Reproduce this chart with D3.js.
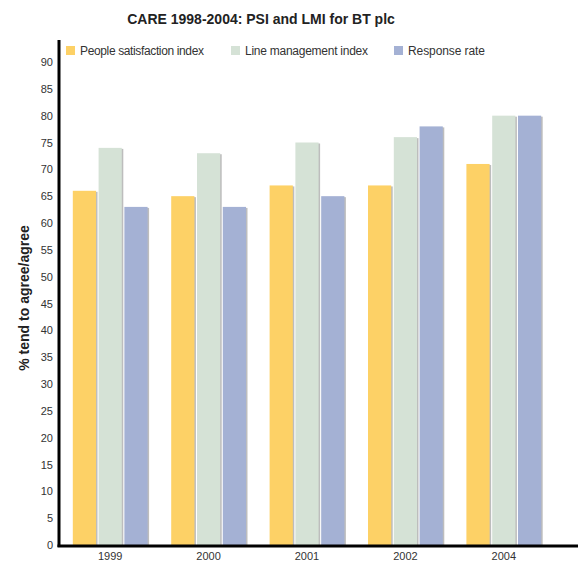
<!DOCTYPE html>
<html>
<head>
<meta charset="utf-8">
<script src="https://cdn.jsdelivr.net/npm/d3@7"></script>
<style>
  body { margin: 0; background: #fff; }
  svg { display: block; font-family: "Liberation Sans", Arial, sans-serif; }
</style>
</head>
<body>
<svg class="chart" width="580" height="563"></svg>
<script>
// data
const years = ["1999", "2000", "2001", "2002", "2004"];
const seriesNames = ["People satisfaction index", "Line management index", "Response rate"];
const psi = [66, 65, 67, 67, 71];
const lmi = [74, 73, 75, 76, 80];
const response = [63, 63, 65, 78, 80];
const yTicks = d3.range(0, 95, 5);
const colors = ["#fdd166", "#d5e2d6", "#a4b1d4"];

const rows = years.map((y, i) => ({ year: y, values: [psi[i], lmi[i], response[i]] }));

const svg = d3.select(".chart");

let leftMargin = 59, rightEdge = 578, topEdge = 40, bottomEdge = 545;

const x0 = d3.scaleBand().domain(years).range([61, 553]).paddingInner(0.24).paddingOuter(0.12);
const x1 = d3.scaleBand().domain(d3.range(3)).range([0, x0.bandwidth()]).paddingInner(0.1);
const yScale = d3.scaleLinear().domain([0, 90]).range([bottomEdge, 62]);

// title
svg.append("text")
  .attr("x", 261).attr("y", 24)
  .attr("text-anchor", "middle")
  .style("font-size", "14px").style("font-weight", "bold").style("fill", "#222")
  .text("CARE 1998-2004: PSI and LMI for BT plc");

// bars
const groups = svg.selectAll(".group")
  .data(rows)
  .enter()
  .append("g")
  .attr("class", "group")
  .attr("transform", (d) => `translate(${x0(d.year)},0)`);

const bar = groups.selectAll(".bar")
  .data((d) => d.values.map((v, k) => ({ k: k, v: v })))
  .enter()
  .append("g")
  .attr("class", "bar");

// thin grey shadow on the right side
bar.append("rect")
  .attr("x", (d) => x1(d.k) + 1.5)
  .attr("y", (d) => yScale(d.v) + 1)
  .attr("width", x1.bandwidth())
  .attr("height", (d) => bottomEdge - yScale(d.v) - 1)
  .style("fill", "#bdbdbd");

bar.append("rect")
  .attr("x", (d) => x1(d.k))
  .attr("y", (d) => yScale(d.v))
  .attr("width", x1.bandwidth())
  .attr("height", (d) => bottomEdge - yScale(d.v))
  .style("fill", (d) => colors[d.k]);

// y axis tick labels
svg.selectAll(".ylab")
  .data(yTicks)
  .enter()
  .append("text")
  .attr("x", 53)
  .attr("y", (d) => yScale(d) + 4)
  .attr("text-anchor", "end")
  .style("font-size", "11px").style("fill", "#333")
  .text((d) => d);

// x labels
svg.selectAll(".xlab")
  .data(years)
  .enter()
  .append("text")
  .attr("x", (d) => x0(d) + x0.bandwidth() / 2)
  .attr("y", 560)
  .attr("text-anchor", "middle")
  .style("font-size", "11px").style("fill", "#333")
  .text((d) => d);

// axis lines
svg.append("line")
  .attr("x1", leftMargin).attr("x2", leftMargin)
  .attr("y1", topEdge).attr("y2", bottomEdge + 2)
  .style("stroke", "#000").style("stroke-width", 3);
svg.append("line")
  .attr("x1", leftMargin - 1.5).attr("x2", rightEdge)
  .attr("y1", bottomEdge + 1).attr("y2", bottomEdge + 1)
  .style("stroke", "#000").style("stroke-width", 3);

// y axis title
svg.append("text")
  .attr("transform", "translate(29,298) rotate(-90)")
  .attr("text-anchor", "middle")
  .style("font-size", "14px").style("font-weight", "bold").style("fill", "#222")
  .text("% tend to agree/agree");

// legend
const legendX = [66, 231, 394];
const legend = svg.selectAll(".legend")
  .data(seriesNames)
  .enter()
  .append("g")
  .attr("class", "legend")
  .attr("transform", (d, i) => `translate(${legendX[i]},46)`);

legend.append("rect")
  .attr("width", 9).attr("height", 9)
  .style("fill", (d, i) => colors[i]);

legend.append("text")
  .attr("x", 14).attr("y", 9)
  .attr("textLength", (d, i) => [124, 123, 77][i])
  .style("font-size", "12px").style("fill", "#333")
  .text((d) => d);
</script>
</body>
</html>
